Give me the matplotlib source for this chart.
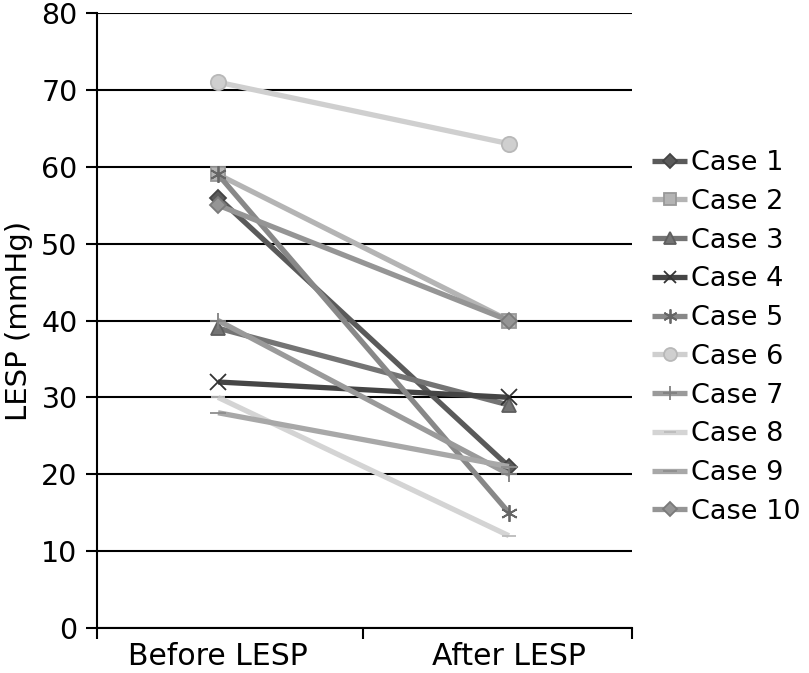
import matplotlib.pyplot as plt

# Werte
kategorien = ["Before LESP", "After LESP"]
faelle = ["Case 1", "Case 2", "Case 3", "Case 4", "Case 5",
          "Case 6", "Case 7", "Case 8", "Case 9", "Case 10"]
vorher = [56, 59, 39, 32, 59, 71, 40, 30, 28, 55]
nachher = [21, 40, 29, 30, 15, 63, 20, 12, 21, 40]

farben = ["#5a5a5a", "#b4b4b4", "#747474", "#454545", "#888888",
          "#cfcfcf", "#9a9a9a", "#d4d4d4", "#a8a8a8", "#959595"]
randfarben = ["#444444", "#999999", "#5e5e5e", "#333333", "#666666",
              "#b8b8b8", "#808080", "#bbbbbb", "#8e8e8e", "#7a7a7a"]
marker = ["D", "s", "^", "x", (6, 2, 0), "o", "+", "_", "_", "D"]
markergroesse = [8, 10, 10, 11, 12, 11, 12, 10, 12, 8]

plt.rcParams["font.family"] = "DejaVu Sans"

fig = plt.figure(figsize=(8.09, 6.73), dpi=100)
ax = fig.add_axes([97 / 809, 1 - 628 / 673, (632 - 97) / 809, (628 - 13) / 673])

x = [0, 1]
for i, name in enumerate(faelle):
    ax.plot(x, [vorher[i], nachher[i]], color=farben[i], lw=3.8,
            marker=marker[i], markersize=markergroesse[i],
            markerfacecolor=farben[i], markeredgecolor=randfarben[i],
            markeredgewidth=1.3, label=name, solid_capstyle="butt")

ax.set_ylim(0, 80)
ax.set_yticks(range(0, 81, 10))
ax.set_xlim(-0.416, 1.423)
ax.set_xticks([-0.416, 0.5, 1.423])
ax.set_xticklabels([])
ax.set_xticks(x, minor=True)
ax.set_xticklabels(kategorien, minor=True, fontsize=21.5)
ax.tick_params(axis="x", which="minor", length=0, pad=10)
ax.tick_params(axis="x", which="major", length=8, width=1.5, direction="out")
ax.tick_params(axis="y", length=8, width=1.5, direction="out", labelsize=20.5, pad=6)

ax.yaxis.grid(True, color="black", lw=1.5)
ax.set_axisbelow(True)
for seite in ["top", "right"]:
    ax.spines[seite].set_visible(False)
for seite in ["left", "bottom"]:
    ax.spines[seite].set_linewidth(1.5)

ax.set_ylabel("LESP (mmHg)", fontsize=21, labelpad=6)

fig.legend(loc="center left", bbox_to_anchor=(652 / 809, 1 - 337.5 / 673),
           bbox_transform=fig.transFigure, frameon=False, fontsize=19.5,
           borderpad=0, borderaxespad=0, handlelength=1.3, handletextpad=0.15,
           labelspacing=0.47, markerscale=0.85)

plt.savefig("out.png", dpi=100)
